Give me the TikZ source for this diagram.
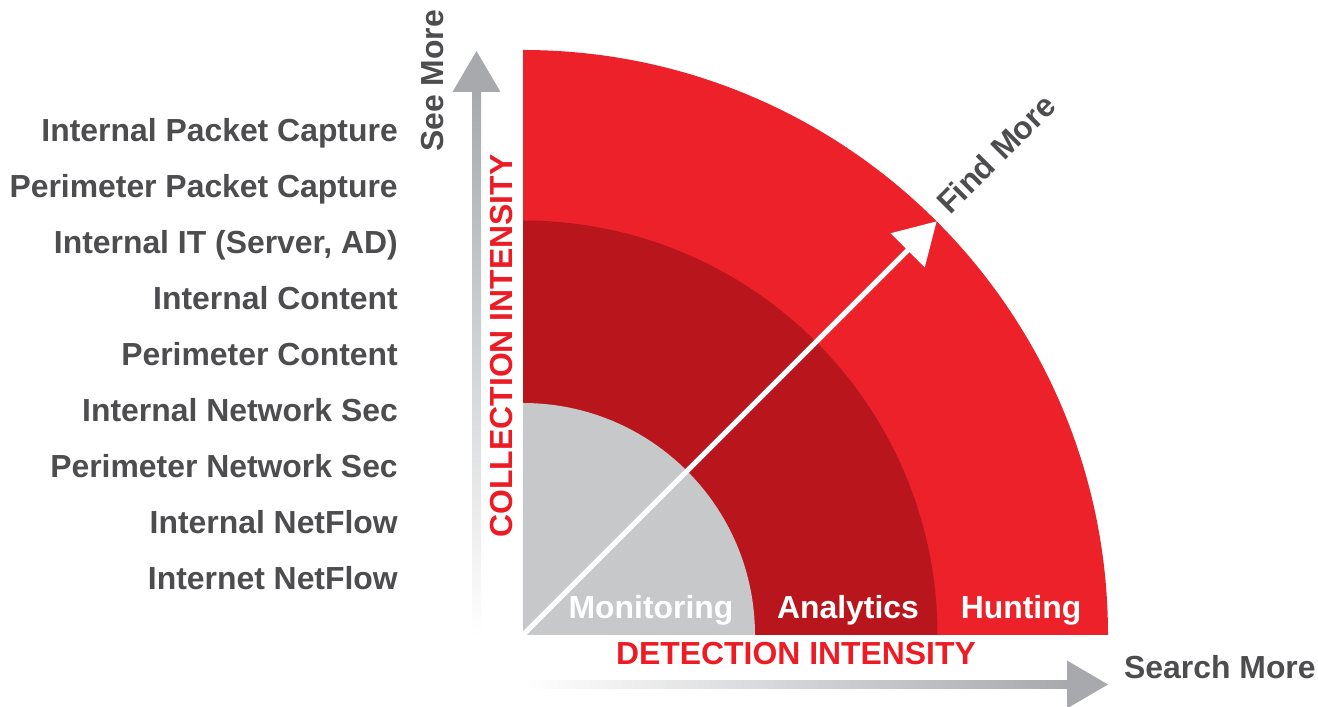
\documentclass[tikz,border=0pt]{standalone}
\usepackage{fontspec}
\setmainfont{Liberation Sans}
\usetikzlibrary{arrows.meta,calc}
\definecolor{outerred}{HTML}{ED2129}
\definecolor{innerred}{HTML}{B8161C}
\definecolor{coregrey}{HTML}{C7C8CA}
\definecolor{axisgrey}{HTML}{A7A9AC}
\definecolor{labelgrey}{HTML}{4D4D4F}
\definecolor{titlered}{HTML}{ED1C24}
\tikzset{
  bigfont/.style={font=\fontsize{31.9}{36}\selectfont\bfseries},
  source/.style={bigfont, text=labelgrey, anchor=base east, inner sep=0pt},
  axislabel/.style={bigfont, text=labelgrey, inner sep=0pt},
  axistitle/.style={bigfont, text=titlered, inner sep=0pt},
  ringlabel/.style={bigfont, text=white, anchor=base, inner sep=0pt},
  findarrow/.style={draw=white, line width=5pt, -{Triangle[length=41pt,width=47pt]}},
}
\begin{document}
\begin{tikzpicture}[x=1pt,y=1pt]
\useasboundingbox (0,0) rectangle (1318,707);

% origin of the quadrant and the ring radii
\coordinate (O) at (523,72);
\def\rout{585}
\def\rmid{414.5}
\def\rin{232}

% rings of the quadrant
\fill[outerred] (O) -- ++(0,\rout) arc[start angle=90, end angle=0, radius=\rout] -- cycle;
\fill[innerred] (O) -- ++(0,\rmid) arc[start angle=90, end angle=0, radius=\rmid] -- cycle;
\fill[coregrey] (O) -- ++(0,\rin) arc[start angle=90, end angle=0, radius=\rin] -- cycle;

% diagonal arrow towards the outer rim
\coordinate (tip) at ($(O)+(45:\rout)$);
\draw[findarrow] (O) -- (tip);

% vertical axis: fading shaft and solid head
\coordinate (vbase) at (476.5,615);
\coordinate (vtip) at (476.5,656);
\shade[top color=axisgrey, bottom color=white] (472,70) rectangle (481,615.5);
\fill[axisgrey] (vtip) -- ($(vbase)+(-24,0)$) -- ($(vbase)+(24,0)$) -- cycle;

% horizontal axis: fading shaft and solid head
\coordinate (hbase) at (1067,22.5);
\coordinate (htip) at (1108,22.5);
\shade[left color=white, right color=axisgrey] (523,18.5) rectangle (1067.5,26.5);
\fill[axisgrey] (htip) -- ($(hbase)+(0,24)$) -- ($(hbase)+(0,-24)$) -- cycle;

% data sources along the vertical axis
\node[source] (s1) at (398,565) {Internal Packet Capture};
\node[source] (s2) at (398,509) {Perimeter Packet Capture};
\node[source] (s3) at (398,453) {Internal IT (Server, AD)};
\node[source] (s4) at (398,397) {Internal Content};
\node[source] (s5) at (398,341) {Perimeter Content};
\node[source] (s6) at (398,285) {Internal Network Sec};
\node[source] (s7) at (398,229) {Perimeter Network Sec};
\node[source] (s8) at (398,173) {Internal NetFlow};
\node[source] (s9) at (398,117) {Internet NetFlow};

% axis captions
\node[axislabel, rotate=90, anchor=base] (see) at (443,626) {See More};
\node[axislabel, anchor=base west] (search) at (1124,28) {Search More};
\node[axislabel, rotate=45, anchor=base west] (find) at (950,491) {Find More};
\node[axistitle, rotate=90, anchor=base] (coll) at (512,361) {COLLECTION INTENSITY};
\node[axistitle, anchor=base] (det) at (796,42) {DETECTION INTENSITY};

% ring names
\node[ringlabel] (mon) at (651,88) {Monitoring};
\node[ringlabel] (ana) at (848,88) {Analytics};
\node[ringlabel] (hunt) at (1021,88) {Hunting};
\end{tikzpicture}
\end{document}
